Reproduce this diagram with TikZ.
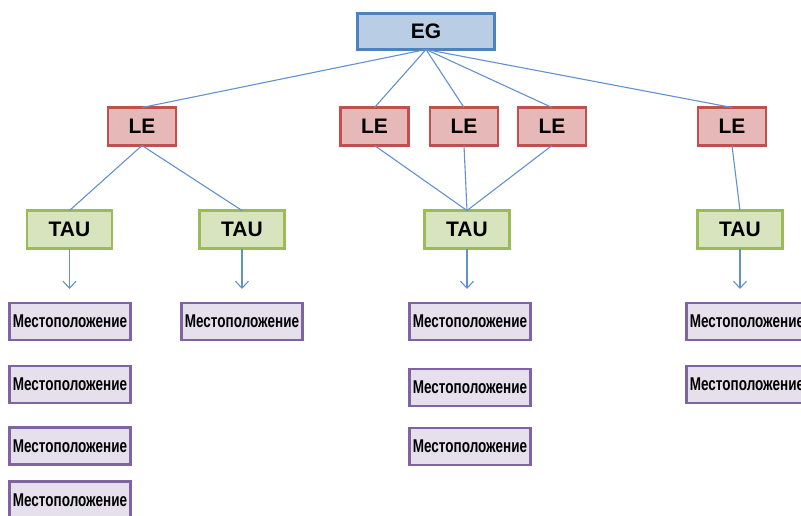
\documentclass[tikz,border=0pt]{standalone}
\usepackage{fontspec}
\setmainfont{Liberation Sans}
\newfontfamily\narrowfont[FakeStretch=0.73]{Liberation Sans}
\usepackage{tikz}
\usetikzlibrary{arrows.meta}
\definecolor{egfill}{RGB}{185,205,229}
\definecolor{egdraw}{RGB}{79,129,189}
\definecolor{lefill}{RGB}{230,185,184}
\definecolor{ledraw}{RGB}{192,80,77}
\definecolor{taufill}{RGB}{215,228,189}
\definecolor{taudraw}{RGB}{155,187,89}
\definecolor{locfill}{RGB}{229,224,236}
\definecolor{locdraw}{RGB}{128,100,162}
\definecolor{linkcolor}{RGB}{100,145,205}

\begin{document}
\begin{tikzpicture}[x=1pt,y=-1pt]
  \tikzset{BoxStyle/.style = {
    shape         = rectangle,
    line width    = 2.2pt,
    text          = black,
    inner sep     = 0pt,
    outer sep     = 0pt,
    font          = \fontsize{21}{21}\selectfont\bfseries
    }
  }
  \tikzset{RootStyle/.style = {
    BoxStyle,
    draw          = egdraw,
    fill          = egfill,
    minimum width = 137pt,
    minimum height= 36pt
    }
  }
  \tikzset{LeStyle/.style = {
    BoxStyle,
    draw          = ledraw,
    fill          = lefill,
    minimum width = 68pt,
    minimum height= 38pt
    }
  }
  \tikzset{TauStyle/.style = {
    BoxStyle,
    draw          = taudraw,
    fill          = taufill,
    minimum width = 85pt,
    minimum height= 38pt
    }
  }
  \tikzset{PlaceStyle/.style = {
    BoxStyle,
    draw          = locdraw,
    fill          = locfill,
    minimum width = 121pt,
    minimum height= 37pt,
    font          = \narrowfont\fontsize{18.5}{18.5}\selectfont\bfseries
    }
  }
  \tikzset{EdgeStyle/.style = {
    draw          = linkcolor,
    line width    = 1.1pt
    }
  }
  \tikzset{ArrowStyle/.style = {
    EdgeStyle,
    -{Straight Barb[length=7pt,width=13pt]}
    }
  }

  \useasboundingbox (0,0) rectangle (801,515);

	\node[RootStyle](A1) at (426, 31.5) {EG};
	\node[LeStyle](B1) at (142, 126.5) {LE};
	\node[LeStyle](B2) at (374.5, 126.5) {LE};
	\node[LeStyle](B3) at (464, 126.5) {LE};
	\node[LeStyle](B4) at (552, 126.5) {LE};
	\node[LeStyle](B5) at (732, 126.5) {LE};
	\node[TauStyle](C1) at (69.5, 229.5) {TAU};
	\node[TauStyle](C2) at (242, 229.5) {TAU};
	\node[TauStyle](C3) at (467, 229.5) {TAU};
	\node[TauStyle](C4) at (740, 229.5) {TAU};
	\coordinate (E1) at (69.5, 289);
	\coordinate (E2) at (242, 289);
	\coordinate (E3) at (467, 289);
	\coordinate (E4) at (740, 289);
	\node[PlaceStyle](D1) at (70, 321.5) {Местоположение};
	\node[PlaceStyle](D2) at (70, 384.5) {Местоположение};
	\node[PlaceStyle](D3) at (70, 446) {Местоположение};
	\node[PlaceStyle](D4) at (70, 500) {Местоположение};
	\node[PlaceStyle](D5) at (242, 321.5) {Местоположение};
	\node[PlaceStyle](D6) at (470, 321.5) {Местоположение};
	\node[PlaceStyle](D7) at (470, 387.5) {Местоположение};
	\node[PlaceStyle](D8) at (470, 446.5) {Местоположение};
	\node[PlaceStyle](D9) at (747, 321.5) {Местоположение};
	\node[PlaceStyle](D10) at (747, 384.5) {Местоположение};

	\draw[EdgeStyle](A1.south) to (B1.north);
	\draw[EdgeStyle](A1.south) to (B2.north);
	\draw[EdgeStyle](A1.south) to (B3.north);
	\draw[EdgeStyle](A1.south) to (B4.north);
	\draw[EdgeStyle](A1.south) to (B5.north);

	\draw[EdgeStyle](B1.south) to (C1.north);
	\draw[EdgeStyle](B1.south) to (C2.north);
	\draw[EdgeStyle](B2.south) to (C3.north);
	\draw[EdgeStyle](B3.south) to (C3.north);
	\draw[EdgeStyle](B4.south) to (C3.north);
	\draw[EdgeStyle](B5.south) to (C4.north);

	\draw[ArrowStyle](C1) to (E1);
	\draw[ArrowStyle](C2) to (E2);
	\draw[ArrowStyle](C3) to (E3);
	\draw[ArrowStyle](C4) to (E4);

\end{tikzpicture}
\end{document}
